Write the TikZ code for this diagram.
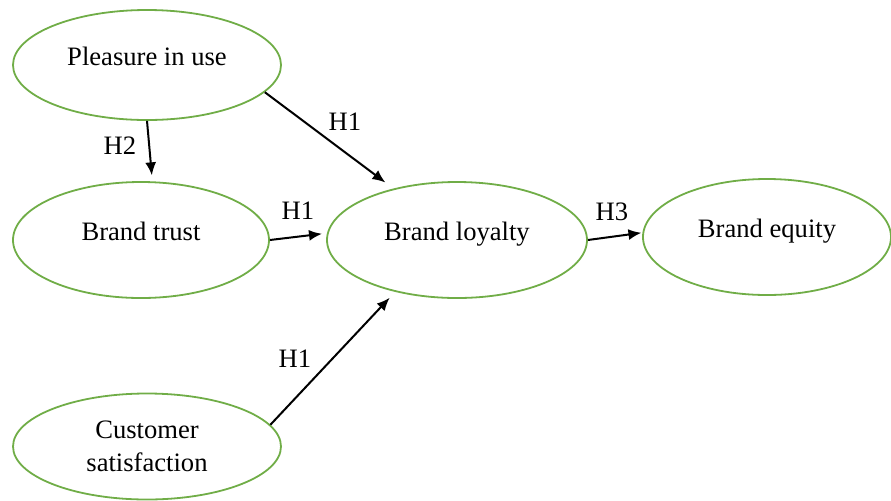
\documentclass[tikz,border=0pt]{standalone}
\usepackage{fontspec}
\setmainfont{Liberation Serif}
\usetikzlibrary{shapes.geometric,arrows.meta}
\definecolor{ovalgreen}{RGB}{112,173,71}

\begin{document}
\begin{tikzpicture}[x=0.5pt, y=-0.5pt,
  oval/.style={draw=ovalgreen, line width=0.9pt, ellipse, inner sep=0pt, align=center, font=\fontsize{13.3}{16.5}\selectfont},
  oneline/.style={text height=9pt, text depth=9pt},
  hyp/.style={inner sep=0pt, font=\fontsize{13.3}{16.5}\selectfont},
  arr/.style={line width=1pt, -{Latex[length=6.5pt,width=5.5pt]}}]
\useasboundingbox (0,0) rectangle (891,500);
% constructs
\node[oval, oneline, minimum width=134pt, minimum height=55pt] (pleasure) at (147,65) {Pleasure in use};
\node[oval, oneline, minimum width=128pt, minimum height=58pt] (trust) at (141,240) {Brand trust};
\node[oval, oneline, minimum width=130pt, minimum height=58pt] (loyalty) at (457,240) {Brand loyalty};
\node[oval, oneline, minimum width=124pt, minimum height=58pt] (equity) at (767,237) {Brand equity};
\node[oval, minimum width=134pt, minimum height=53pt] (satisfaction) at (147,446.5) {Customer\\satisfaction};
% hypotheses
\node[hyp] (h2) at (120,146) {H2};
\node[hyp] (h1a) at (345,122) {H1};
\node[hyp] (h1b) at (298,211) {H1};
\node[hyp] (h1c) at (295,359) {H1};
\node[hyp] (h3) at (612,212) {H3};
\draw[arr, shorten >=3pt] (pleasure.south) -- (trust.79);
\draw[arr, shorten >=5pt] (pleasure.-13) -- (loyalty.141);
\draw[arr, shorten >=2.5pt] (trust.east) -- (loyalty.177);
\draw[arr, shorten >=4pt] (satisfaction.10) -- (loyalty.-140);
\draw[arr, shorten >=0.5pt] (loyalty.east) -- (equity.178);
\end{tikzpicture}
\end{document}
